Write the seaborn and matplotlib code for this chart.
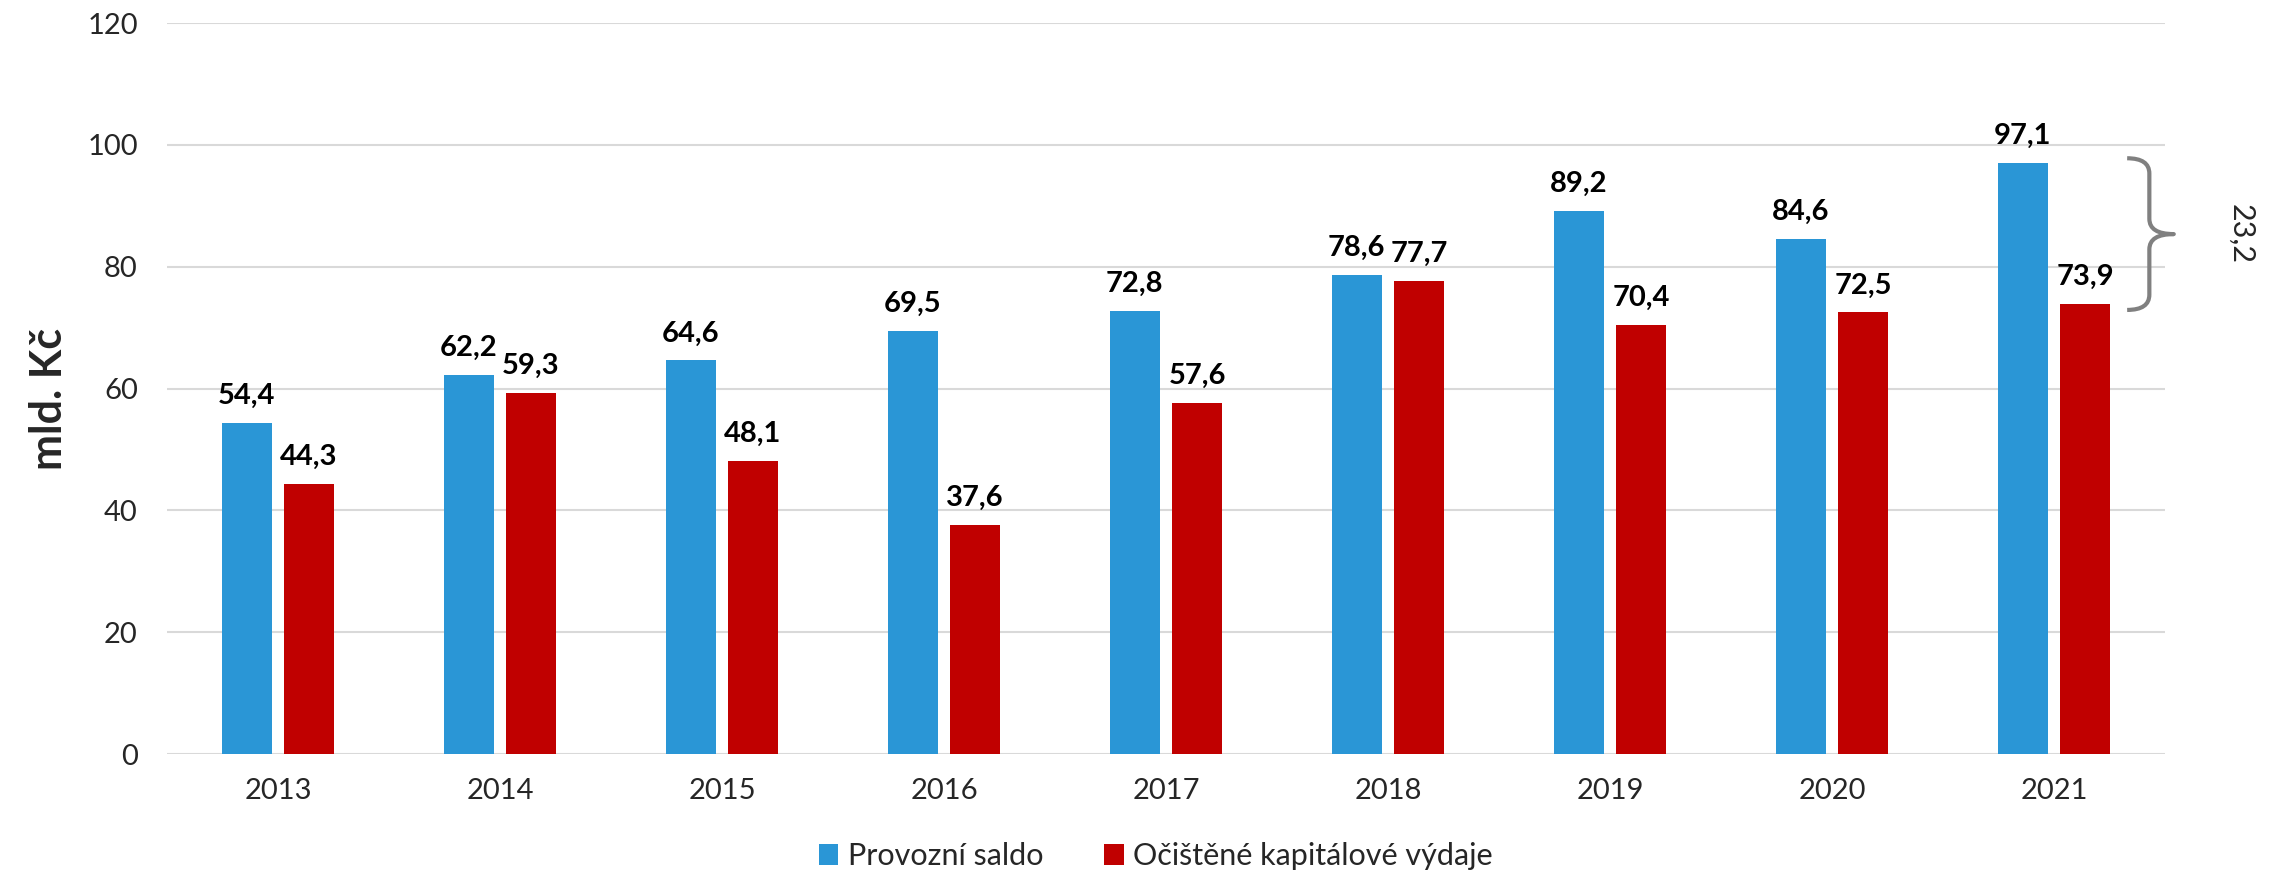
import matplotlib
matplotlib.use('Agg')
import matplotlib.pyplot as plt
from matplotlib.path import Path
from matplotlib.patches import PathPatch, Patch
import seaborn as sns
import pandas as pd

# data
roky = ['2013', '2014', '2015', '2016', '2017', '2018', '2019', '2020', '2021']
provozni_saldo = [54.4, 62.2, 64.6, 69.5, 72.8, 78.6, 89.2, 84.6, 97.1]
kapitalove_vydaje = [44.3, 59.3, 48.1, 37.6, 57.6, 77.7, 70.4, 72.5, 73.9]
serie = ['Provozní saldo', 'Očištěné kapitálové výdaje']
barvy = ['#2A96D6', '#C00000']

df = pd.DataFrame({
    'rok': roky * 2,
    'hodnota': provozni_saldo + kapitalove_vydaje,
    'serie': [serie[0]] * len(roky) + [serie[1]] * len(roky),
})

sns.set_style('white')
plt.rcParams['font.family'] = ['Lato', 'DejaVu Sans']

fig, ax = plt.subplots(figsize=(22.75, 8.72), dpi=100)
fig.subplots_adjust(left=0.0734, right=0.9516, top=0.9736, bottom=0.1353)

sns.barplot(data=df, x='rok', y='hodnota', hue='serie', palette=barvy, saturation=1,
            width=0.56, gap=0.2, linewidth=0, legend=False, ax=ax)

# popisky hodnot
for cont in ax.containers:
    ax.bar_label(cont, labels=[f'{b.get_height():.1f}'.replace('.', ',') for b in cont],
                 padding=10, fontsize=21, fontweight='bold', color='black')

ax.set_xlim(-0.5, 8.5)
ax.set_ylim(0, 120)
ax.set_yticks(range(0, 121, 20))
ax.yaxis.grid(True, color='#d9d9d9', linewidth=1.5)
ax.set_axisbelow(True)
for s in ax.spines.values():
    s.set_visible(False)
ax.tick_params(axis='y', length=0, pad=21, labelsize=21)
ax.tick_params(axis='x', length=0, pad=17, labelsize=21)
ax.set_xlabel('')
ax.set_ylabel('mld. Kč', fontsize=31, fontweight='bold')
ax.yaxis.set_label_coords(-0.049, 0.485)

# slozena zavorka u posledniho roku
top = provozni_saldo[-1] + 0.7
bot = kapitalove_vydaje[-1] - 1.0
mid = (top + bot) / 2
i = len(roky) - 1
x0, x1, xt = i + 0.33, i + 0.43, i + 0.54
r = 2.5
verts = [(x0, top), (x1, top), (x1, top - r),
         (x1, mid + r), (x1, mid), (xt, mid),
         (x1, mid), (x1, mid - r),
         (x1, bot + r), (x1, bot), (x0, bot)]
codes = [Path.MOVETO, Path.CURVE3, Path.CURVE3,
         Path.LINETO, Path.CURVE3, Path.CURVE3,
         Path.CURVE3, Path.CURVE3,
         Path.LINETO, Path.CURVE3, Path.CURVE3]
ax.add_patch(PathPatch(Path(verts, codes), facecolor='none', edgecolor='#808080',
                       linewidth=3, clip_on=False, capstyle='butt', joinstyle='round'))
rozdil = provozni_saldo[-1] - kapitalove_vydaje[-1]
ax.text(i + 0.84, mid, f'{rozdil:.1f}'.replace('.', ','), rotation=-90,
        ha='center', va='center', fontsize=22, clip_on=False)

handles = [Patch(facecolor=c, edgecolor='none') for c in barvy]
fig.legend(handles, serie, loc='center', bbox_to_anchor=(0.508, 0.018), ncol=2,
           frameon=False, fontsize=22, handlelength=0.65, handleheight=0.65,
           handletextpad=0.3, columnspacing=2.0)

fig.savefig('out.png', dpi=100)
